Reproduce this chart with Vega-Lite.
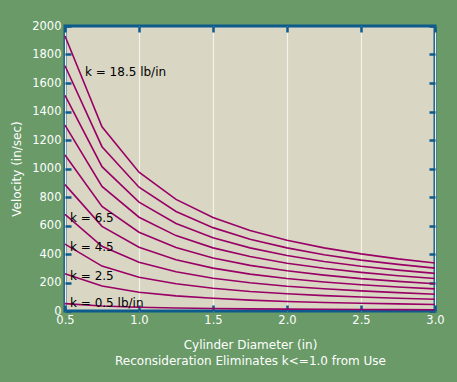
{
  "$schema": "https://vega.github.io/schema/vega-lite/v6.json",
  "width": 370,
  "height": 285,
  "autosize": "none",
  "padding": {"left": 65, "top": 26, "right": 22, "bottom": 71},
  "background": "#699a67",
  "config": {
    "view": {"fill": "#d9d6c3", "stroke": "#0d5a8c", "strokeWidth": 3},
    "font": "DejaVu Sans",
    "axis": {
      "labelFont": "DejaVu Sans",
      "titleFont": "DejaVu Sans",
      "labelColor": "#ffffff",
      "titleColor": "#ffffff",
      "labelFontSize": 11.5,
      "titleFontSize": 12,
      "titleFontWeight": "normal",
      "labelFlush": false,
      "domain": false,
      "tickColor": "#0d5a8c",
      "tickWidth": 2.5,
      "tickSize": -6,
      "gridColor": "#f4f2ea",
      "gridWidth": 1.2
    }
  },
  "datasets": {
    "curves": [
      {"k": 0.5, "d": 0.5, "v": 52}, {"k": 0.5, "d": 0.75, "v": 35}, {"k": 0.5, "d": 1.0, "v": 26}, {"k": 0.5, "d": 1.25, "v": 21}, {"k": 0.5, "d": 1.5, "v": 18}, {"k": 0.5, "d": 1.75, "v": 15}, {"k": 0.5, "d": 2.0, "v": 13}, {"k": 0.5, "d": 2.25, "v": 12}, {"k": 0.5, "d": 2.5, "v": 11}, {"k": 0.5, "d": 2.75, "v": 10}, {"k": 0.5, "d": 3.0, "v": 9},
      {"k": 2.5, "d": 0.5, "v": 261}, {"k": 2.5, "d": 0.75, "v": 175}, {"k": 2.5, "d": 1.0, "v": 132}, {"k": 2.5, "d": 1.25, "v": 106}, {"k": 2.5, "d": 1.5, "v": 89}, {"k": 2.5, "d": 1.75, "v": 76}, {"k": 2.5, "d": 2.0, "v": 67}, {"k": 2.5, "d": 2.25, "v": 60}, {"k": 2.5, "d": 2.5, "v": 54}, {"k": 2.5, "d": 2.75, "v": 50}, {"k": 2.5, "d": 3.0, "v": 46},
      {"k": 4.5, "d": 0.5, "v": 469}, {"k": 4.5, "d": 0.75, "v": 315}, {"k": 4.5, "d": 1.0, "v": 237}, {"k": 4.5, "d": 1.25, "v": 191}, {"k": 4.5, "d": 1.5, "v": 160}, {"k": 4.5, "d": 1.75, "v": 137}, {"k": 4.5, "d": 2.0, "v": 121}, {"k": 4.5, "d": 2.25, "v": 108}, {"k": 4.5, "d": 2.5, "v": 98}, {"k": 4.5, "d": 2.75, "v": 89}, {"k": 4.5, "d": 3.0, "v": 82},
      {"k": 6.5, "d": 0.5, "v": 678}, {"k": 6.5, "d": 0.75, "v": 454}, {"k": 6.5, "d": 1.0, "v": 342}, {"k": 6.5, "d": 1.25, "v": 275}, {"k": 6.5, "d": 1.5, "v": 230}, {"k": 6.5, "d": 1.75, "v": 198}, {"k": 6.5, "d": 2.0, "v": 174}, {"k": 6.5, "d": 2.25, "v": 156}, {"k": 6.5, "d": 2.5, "v": 141}, {"k": 6.5, "d": 2.75, "v": 129}, {"k": 6.5, "d": 3.0, "v": 118},
      {"k": 8.5, "d": 0.5, "v": 887}, {"k": 8.5, "d": 0.75, "v": 594}, {"k": 8.5, "d": 1.0, "v": 448}, {"k": 8.5, "d": 1.25, "v": 360}, {"k": 8.5, "d": 1.5, "v": 301}, {"k": 8.5, "d": 1.75, "v": 259}, {"k": 8.5, "d": 2.0, "v": 228}, {"k": 8.5, "d": 2.25, "v": 204}, {"k": 8.5, "d": 2.5, "v": 184}, {"k": 8.5, "d": 2.75, "v": 168}, {"k": 8.5, "d": 3.0, "v": 155},
      {"k": 10.5, "d": 0.5, "v": 1095}, {"k": 10.5, "d": 0.75, "v": 734}, {"k": 10.5, "d": 1.0, "v": 553}, {"k": 10.5, "d": 1.25, "v": 445}, {"k": 10.5, "d": 1.5, "v": 372}, {"k": 10.5, "d": 1.75, "v": 320}, {"k": 10.5, "d": 2.0, "v": 282}, {"k": 10.5, "d": 2.25, "v": 252}, {"k": 10.5, "d": 2.5, "v": 227}, {"k": 10.5, "d": 2.75, "v": 208}, {"k": 10.5, "d": 3.0, "v": 191},
      {"k": 12.5, "d": 0.5, "v": 1304}, {"k": 12.5, "d": 0.75, "v": 874}, {"k": 12.5, "d": 1.0, "v": 658}, {"k": 12.5, "d": 1.25, "v": 529}, {"k": 12.5, "d": 1.5, "v": 443}, {"k": 12.5, "d": 1.75, "v": 382}, {"k": 12.5, "d": 2.0, "v": 335}, {"k": 12.5, "d": 2.25, "v": 300}, {"k": 12.5, "d": 2.5, "v": 271}, {"k": 12.5, "d": 2.75, "v": 247}, {"k": 12.5, "d": 3.0, "v": 228},
      {"k": 14.5, "d": 0.5, "v": 1513}, {"k": 14.5, "d": 0.75, "v": 1013}, {"k": 14.5, "d": 1.0, "v": 764}, {"k": 14.5, "d": 1.25, "v": 614}, {"k": 14.5, "d": 1.5, "v": 514}, {"k": 14.5, "d": 1.75, "v": 443}, {"k": 14.5, "d": 2.0, "v": 389}, {"k": 14.5, "d": 2.25, "v": 347}, {"k": 14.5, "d": 2.5, "v": 314}, {"k": 14.5, "d": 2.75, "v": 287}, {"k": 14.5, "d": 3.0, "v": 264},
      {"k": 16.5, "d": 0.5, "v": 1721}, {"k": 16.5, "d": 0.75, "v": 1153}, {"k": 16.5, "d": 1.0, "v": 869}, {"k": 16.5, "d": 1.25, "v": 698}, {"k": 16.5, "d": 1.5, "v": 585}, {"k": 16.5, "d": 1.75, "v": 504}, {"k": 16.5, "d": 2.0, "v": 443}, {"k": 16.5, "d": 2.25, "v": 395}, {"k": 16.5, "d": 2.5, "v": 357}, {"k": 16.5, "d": 2.75, "v": 327}, {"k": 16.5, "d": 3.0, "v": 301},
      {"k": 18.5, "d": 0.5, "v": 1930}, {"k": 18.5, "d": 0.75, "v": 1293}, {"k": 18.5, "d": 1.0, "v": 974}, {"k": 18.5, "d": 1.25, "v": 783}, {"k": 18.5, "d": 1.5, "v": 656}, {"k": 18.5, "d": 1.75, "v": 565}, {"k": 18.5, "d": 2.0, "v": 496}, {"k": 18.5, "d": 2.25, "v": 443}, {"k": 18.5, "d": 2.5, "v": 401}, {"k": 18.5, "d": 2.75, "v": 366}, {"k": 18.5, "d": 3.0, "v": 337}
    ],
    "labels": [
      {"d": 0.635, "v": 1679, "label": "k = 18.5 lb/in"},
      {"d": 0.534, "v": 653, "label": "k = 6.5"},
      {"d": 0.534, "v": 451, "label": "k = 4.5"},
      {"d": 0.534, "v": 246, "label": "k = 2.5"},
      {"d": 0.534, "v": 56, "label": "k = 0.5 lb/in"}
    ]
  },
  "layer": [
    {
      "data": {"name": "curves"},
      "mark": {"type": "line", "color": "#990066", "strokeWidth": 1.6},
      "encoding": {
        "x": {
          "field": "d", "type": "quantitative",
          "scale": {"domain": [0.5, 3.0], "nice": false},
          "axis": {
            "orient": "bottom",
            "values": [0.5, 1.0, 1.5, 2.0, 2.5, 3.0],
            "format": ".1f",
            "grid": true,
            "labelPadding": 9,
            "title": ["Cylinder Diameter (in)", "Reconsideration Eliminates k<=1.0 from Use"],
            "titlePadding": 14,
            "titleLineHeight": 16
          }
        },
        "y": {
          "field": "v", "type": "quantitative",
          "scale": {"domain": [0, 2000], "nice": false},
          "axis": {
            "orient": "left",
            "values": [0, 200, 400, 600, 800, 1000, 1200, 1400, 1600, 1800, 2000],
            "format": "d",
            "grid": false,
            "labelPadding": 10,
            "title": "Velocity (in/sec)",
            "titlePadding": 8
          }
        },
        "detail": {"field": "k", "type": "quantitative"}
      }
    },
    {
      "data": {"name": "labels"},
      "mark": {"type": "text", "align": "left", "baseline": "middle", "fontSize": 12, "color": "#000000", "font": "DejaVu Sans"},
      "encoding": {
        "x": {
          "field": "d", "type": "quantitative",
          "axis": {"orient": "top", "values": [0.5, 1.0, 1.5, 2.0, 2.5, 3.0], "labels": false, "grid": false, "title": null}
        },
        "y": {
          "field": "v", "type": "quantitative",
          "axis": {"orient": "right", "values": [0, 200, 400, 600, 800, 1000, 1200, 1400, 1600, 1800, 2000], "labels": false, "grid": false, "title": null}
        },
        "text": {"field": "label", "type": "nominal"}
      }
    }
  ],
  "resolve": {"axis": {"x": "independent", "y": "independent"}}
}
